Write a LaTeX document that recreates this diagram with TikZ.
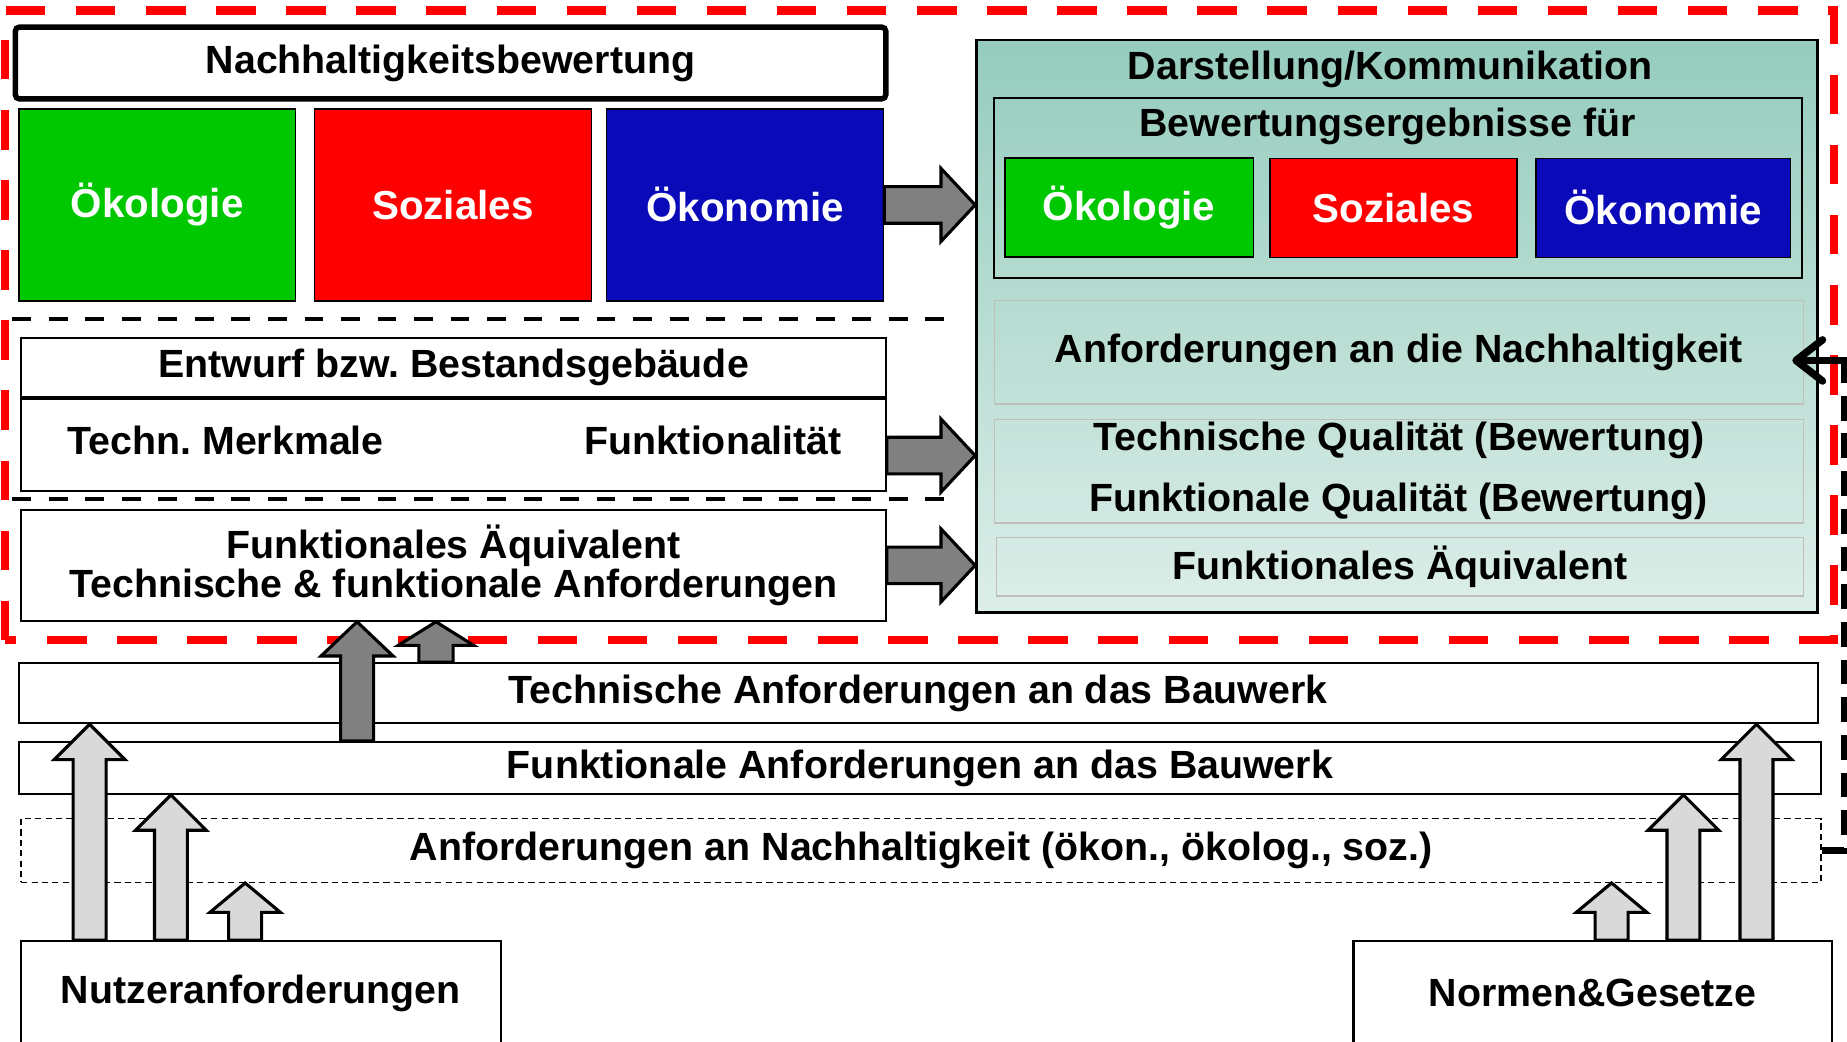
\documentclass[tikz,border=0pt]{standalone}
\usepackage{fontspec}
\setmainfont{Liberation Sans}
\usepackage{xcolor}
\definecolor{cGreen}{HTML}{00C800}
\definecolor{cRed}{HTML}{FF0000}
\definecolor{cBlue}{HTML}{0A0AB9}
\definecolor{cTealTop}{HTML}{95CCBD}
\definecolor{cTealBot}{HTML}{DDEEE9}
\definecolor{cDark}{HTML}{808080}
\definecolor{cLight}{HTML}{D9D9D9}
\usepackage{tikz}
\usetikzlibrary{positioning, arrows.meta, calc}

% block arrow: style, from, to, shaft width, head width, head length
\newcommand{\blockarrow}[6]{%
  \draw[#1] let \p1=(#2), \p2=(#3),
    \n1={atan2(\y2-\y1,\x2-\x1)}, \n2={veclen(\x2-\x1,\y2-\y1)} in
    [shift={(\p1)}, rotate=\n1]
    (0,-#4/2) -- ({\n2-#6},-#4/2) -- ({\n2-#6},-#5/2) -- ({\n2*1pt},0)
    -- ({\n2-#6},#5/2) -- ({\n2-#6},#4/2) -- (0,#4/2) -- cycle;}

\begin{document}
\frenchspacing
\begin{tikzpicture}[
    txt/.style={font=\fontsize{19}{22}\selectfont\bfseries, inner sep=0pt},
    plainbox/.style={draw=black, line width=1pt, fill=white, inner sep=0pt,
                     font=\fontsize{19}{22}\selectfont\bfseries},
    colbox/.style={draw=black, line width=0.8pt, text=white, inner sep=0pt,
                   font=\fontsize{19.5}{22}\selectfont\bfseries},
    subbox/.style={draw=black!25, line width=0.6pt, inner sep=0pt, align=center,
                   font=\fontsize{19}{22}\selectfont\bfseries},
    redframe/.style={draw=cRed, line width=4pt, dash pattern=on 0.67cm off 0.52cm},
    sepline/.style={draw=black, line width=2pt, dash pattern=on 0.32cm off 0.3cm},
    darkarr/.style={draw=black, line width=1.5pt, fill=cDark},
    lightarr/.style={draw=black, line width=1.5pt, fill=cLight},
    feedback/.style={draw=black, line width=3pt, dash pattern=on 0.42cm off 0.22cm},
    fbarrow/.style={draw=black, line width=3pt,
                    -{Straight Barb[length=4.5mm, width=7mm, line width=3.6pt, round]}}
]
\useasboundingbox[fill=white] (0,0) rectangle (31.36,17.68);

% Rahmen
\draw[redframe] (0.08,6.81) rectangle (31.14,17.50);

% Nachhaltigkeitsbewertung
\node[plainbox, line width=2.6pt, rounded corners=2pt, minimum width=14.78cm, minimum height=1.22cm] (bew) at (7.65,16.61) {Nachhaltigkeitsbewertung};
\node[colbox, fill=cGreen, minimum width=4.70cm, minimum height=3.26cm] (oekoL) at (2.67,14.2) {Ökologie};
\node[colbox, fill=cRed, minimum width=4.70cm, minimum height=3.26cm] (sozL) at (7.69,14.2) {Soziales};
\node[colbox, fill=cBlue, minimum width=4.70cm, minimum height=3.26cm] (oekonL) at (12.65,14.2) {Ökonomie};

\draw[sepline] (0.21,12.26) -- (16.18,12.26);

% Entwurf
\node[plainbox, minimum width=14.68cm, minimum height=1.0cm] (entwurf) at (7.70,11.44) {Entwurf bzw. Bestandsgebäude};
\node[plainbox, minimum width=14.68cm, minimum height=1.56cm, below=0pt of entwurf] (merkmale) {};
\draw[line width=2pt] (entwurf.south west) -- (entwurf.south east);
\node[txt, anchor=west] (techn_m) at (1.14,10.2) {Techn. Merkmale};
\node[txt, anchor=east] (funktion) at (14.30,10.2) {Funktionalität};

\draw[sepline] (0.21,9.20) -- (16.18,9.20);

\node[plainbox, align=center, font=\fontsize{19}{18.5}\selectfont\bfseries, minimum width=14.68cm, minimum height=1.88cm] (faeL) at (7.70,8.08) {Funktionales Äquivalent\\Technische \& funktionale Anforderungen};

% Darstellung/Kommunikation
\node[draw=black, line width=1.3pt, top color=cTealTop, bottom color=cTealBot, minimum width=14.28cm, minimum height=9.72cm] (teal) at (23.72,12.14) {};
\node[txt] (darst) at (23.6,16.5) {Darstellung/Kommunikation};
\node[draw=black, line width=1pt, minimum width=13.72cm, minimum height=3.06cm] (ergebnis) at (23.74,14.49) {};
\node[txt] (ergtitle) at (23.56,15.54) {Bewertungsergebnisse für};
\node[colbox, fill=cGreen, minimum width=4.22cm, minimum height=1.68cm] (oekoR) at (19.17,14.16) {Ökologie};
\node[colbox, fill=cRed, minimum width=4.20cm, minimum height=1.68cm] (sozR) at (23.66,14.15) {Soziales};
\node[colbox, fill=cBlue, minimum width=4.32cm, minimum height=1.68cm] (oekonR) at (28.24,14.15) {Ökonomie};
\node[subbox, minimum width=13.74cm, minimum height=1.76cm] (anf) at (23.75,11.70) {Anforderungen an die Nachhaltigkeit};
\node[subbox, font=\fontsize{19}{29.5}\selectfont\bfseries, minimum width=13.74cm, minimum height=1.76cm] (quali) at (23.75,9.68) {Technische Qualität (Bewertung)\\Funktionale Qualität (Bewertung)};
\node[subbox, minimum width=13.70cm, minimum height=1.0cm] (faeR) at (23.77,8.06) {Funktionales Äquivalent};

% Anforderungsebenen
\node[plainbox, minimum width=30.54cm, minimum height=1.02cm] (techn) at (15.59,5.91) {Technische Anforderungen an das Bauwerk};
\node[plainbox, minimum width=30.60cm, minimum height=0.88cm] (funkt) at (15.62,4.64) {Funktionale Anforderungen an das Bauwerk};
\node[plainbox, line width=0.7pt, dash pattern=on 3pt off 2pt, minimum width=30.56cm, minimum height=1.08cm] (nachh) at (15.64,3.24) {Anforderungen an Nachhaltigkeit (ökon., ökolog., soz.)};

\node[plainbox, minimum width=8.14cm, minimum height=1.76cm] (nutzer) at (4.43,0.82) {Nutzeranforderungen};
\node[plainbox, minimum width=8.12cm, minimum height=1.76cm] (normen) at (27.04,0.82) {Normen\&Gesetze};

% Pfeile
\foreach \name/\dx in {u1/1.18, u2/2.56, u3/3.82}
  \coordinate (\name) at ([xshift=\dx cm]nutzer.north west);
\foreach \name/\dx in {n1/4.40, n2/5.62, n3/6.86}
  \coordinate (\name) at ([xshift=\dx cm]normen.north west);
\coordinate (d1) at ([xshift=5.76cm]funkt.north west);
\coordinate (d2) at ([xshift=7.10cm]techn.north west);
\coordinate (h2) at ([yshift=-0.18cm]merkmale.east);

\blockarrow{lightarr}{u1}{u1 |- techn.south}{0.56cm}{1.2cm}{0.6cm}
\blockarrow{lightarr}{u2}{u2 |- funkt.south}{0.56cm}{1.2cm}{0.6cm}
\blockarrow{lightarr}{u3}{u3 |- nachh.south}{0.56cm}{1.2cm}{0.5cm}
\blockarrow{lightarr}{n1}{n1 |- nachh.south}{0.56cm}{1.2cm}{0.5cm}
\blockarrow{lightarr}{n2}{n2 |- funkt.south}{0.56cm}{1.2cm}{0.6cm}
\blockarrow{lightarr}{n3}{n3 |- techn.south}{0.56cm}{1.2cm}{0.6cm}
\blockarrow{darkarr}{d1}{d1 |- faeL.south}{0.56cm}{1.22cm}{0.58cm}
\blockarrow{darkarr}{d2}{d2 |- faeL.south}{0.58cm}{1.28cm}{0.4cm}

\blockarrow{darkarr}{oekonL.east}{oekonL.east -| teal.west}{0.62cm}{1.24cm}{0.58cm}
\blockarrow{darkarr}{h2}{h2 -| teal.west}{0.62cm}{1.24cm}{0.58cm}
\blockarrow{darkarr}{faeL.east}{faeL.east -| teal.west}{0.62cm}{1.24cm}{0.58cm}

% Rueckkopplung
\coordinate (fb) at ([xshift=-0.2cm, yshift=-0.14cm]anf.east);
\coordinate (fbc) at ([xshift=0.38cm]nachh.east);
\draw[feedback] (nachh.east) -- (fbc) |- (fb);
\draw[fbarrow] (fbc |- fb) -- (fb);
\end{tikzpicture}
\end{document}
